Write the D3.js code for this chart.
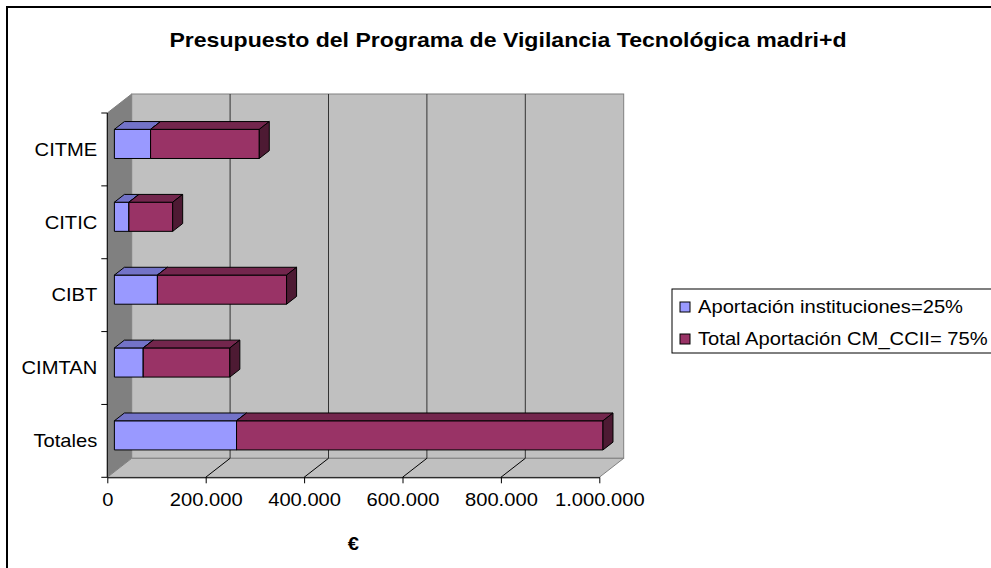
<!DOCTYPE html>
<html lang="es">
  <head>
    <meta charset="UTF-8">
    <script src="https://d3js.org/d3.v7.min.js"></script>
    <style>
      body { margin: 0; background: #fff; }
      text { font-family: "Liberation Sans", Arial, sans-serif; fill: #000; }
    </style>
  </head>
  <body>
    <div id="my_dataviz"></div>

    <script>
      // data
      const categories = ["CITME", "CITIC", "CIBT", "CIMTAN", "Totales"];
      const aportacionInstituciones = [73600, 29600, 87500, 58700, 248300];
      const totalAportacionCM = [220900, 88900, 262500, 176000, 744800];
      const seriesNames = ["Aportación instituciones=25%", "Total Aportación CM_CCII= 75%"];
      const xTicks = [0, 200000, 400000, 600000, 800000, 1000000];

      const width = 991, height = 568;
      const stretch = 1.12;   // the picture is a bit wider than the text would be
      const fontSize = 18;

      // front plane of the 3D plot and its depth
      const front = { left: 107.3, right: 599.3, top: 113, bottom: 477.3 };
      const depth = { dx: 24.4, dy: -19 };
      const barDepth = [0.29, 0.7];   // bar sits between these fractions of the depth

      const colors = [
        { front: "#9999ff", top: "#7373c8", side: "#5c5c99" },
        { front: "#993366", top: "#73264d", side: "#4d1a33" }
      ];

      const svg = d3.select("#my_dataviz")
        .append("svg")
        .attr("width", width)
        .attr("height", height);

      // chart frame
      svg.append("rect")
        .attr("x", 7).attr("y", 7)
        .attr("width", 1000).attr("height", 600)
        .attr("fill", "#fff")
        .attr("stroke", "#000")
        .attr("stroke-width", 2);

      const x = d3.scaleLinear().domain([0, 1000000]).range([front.left, front.right]);
      const y = d3.scaleBand()
        .domain(categories)
        .range([front.top, front.bottom])
        .paddingInner(0.6)
        .paddingOuter(0.3);

      const pts = p => p.map(d => d.join(",")).join(" ");
      const back = (px, py) => [px + depth.dx, py + depth.dy];

      // left wall
      svg.append("polygon")
        .attr("points", pts([[front.left, front.top], back(front.left, front.top),
          back(front.left, front.bottom), [front.left, front.bottom]]))
        .attr("fill", "#808080")
        .attr("stroke", "#808080");

      // back wall
      svg.append("rect")
        .attr("x", front.left + depth.dx)
        .attr("y", front.top + depth.dy)
        .attr("width", front.right - front.left)
        .attr("height", front.bottom - front.top)
        .attr("fill", "#c0c0c0")
        .attr("stroke", "#808080");

      // floor
      svg.append("polygon")
        .attr("points", pts([[front.left, front.bottom], [front.right, front.bottom],
          back(front.right, front.bottom), back(front.left, front.bottom)]))
        .attr("fill", "#c0c0c0")
        .attr("stroke", "#808080");

      // gridlines on back wall and floor
      svg.selectAll(".grid")
        .data(xTicks.slice(1, -1))
        .join("line")
        .attr("x1", d => x(d) + depth.dx)
        .attr("x2", d => x(d) + depth.dx)
        .attr("y1", front.top + depth.dy)
        .attr("y2", front.bottom + depth.dy)
        .attr("stroke", "#333");
      svg.selectAll(".floorgrid")
        .data(xTicks.slice(1, -1))
        .join("line")
        .attr("x1", d => x(d))
        .attr("y1", front.bottom)
        .attr("x2", d => x(d) + depth.dx)
        .attr("y2", front.bottom + depth.dy)
        .attr("stroke", "#000");

      // bars
      const gx0 = depth.dx * barDepth[0], gy0 = depth.dy * barDepth[0];
      const bdx = depth.dx * (barDepth[1] - barDepth[0]), bdy = depth.dy * (barDepth[1] - barDepth[0]);

      const segments = [];
      categories.forEach((c, i) => {
        const vals = [aportacionInstituciones[i], totalAportacionCM[i]];
        let start = 0;
        vals.forEach((v, s) => {
          segments.push({ cat: c, s: s, x0: start, x1: start + v });
          start += v;
        });
      });

      const bars = svg.append("g").selectAll("g")
        .data(segments)
        .join("g")
        .attr("stroke", "#000")
        .attr("stroke-width", 1)
        .attr("stroke-linejoin", "round");

      bars.append("rect")
        .attr("x", d => x(d.x0) + gx0)
        .attr("y", d => y(d.cat) + gy0)
        .attr("width", d => x(d.x1) - x(d.x0))
        .attr("height", y.bandwidth())
        .attr("fill", d => colors[d.s].front);

      bars.append("polygon")
        .attr("points", d => {
          const xa = x(d.x0) + gx0, xb = x(d.x1) + gx0, yt = y(d.cat) + gy0;
          return pts([[xa, yt], [xb, yt], [xb + bdx, yt + bdy], [xa + bdx, yt + bdy]]);
        })
        .attr("fill", d => colors[d.s].top);

      bars.append("polygon")
        .attr("points", d => {
          const xb = x(d.x1) + gx0, yt = y(d.cat) + gy0, yb = yt + y.bandwidth();
          return pts([[xb, yt], [xb + bdx, yt + bdy], [xb + bdx, yb + bdy], [xb, yb]]);
        })
        .attr("fill", d => colors[d.s].side);

      // value axis
      const xAxis = svg.append("g")
        .attr("transform", `translate(0, ${front.bottom})`)
        .call(d3.axisBottom(x)
          .tickValues(xTicks)
          .tickSizeInner(6)
          .tickSizeOuter(0)
          .tickPadding(5)
          .tickFormat(d => d3.format(",")(d).replace(/,/g, ".")));
      xAxis.select(".domain").attr("stroke", "#000");
      xAxis.selectAll(".tick line").attr("stroke", "#000");
      xAxis.selectAll(".tick text")
        .attr("font-size", fontSize)
        .attr("font-family", "Liberation Sans, Arial, sans-serif")
        .attr("y", 16)
        .attr("transform", `scale(${stretch},1)`);

      // category axis
      svg.append("line")
        .attr("x1", front.left).attr("x2", front.left)
        .attr("y1", front.top).attr("y2", front.bottom)
        .attr("stroke", "#000");
      const gap = (y.step() - y.bandwidth()) / 2;
      const bounds = categories.map(c => y(c) - gap).concat([front.bottom]);
      svg.selectAll(".ytick")
        .data(bounds)
        .join("line")
        .attr("x1", front.left - 6).attr("x2", front.left)
        .attr("y1", d => d).attr("y2", d => d)
        .attr("stroke", "#000");
      svg.selectAll(".ylabel")
        .data(categories)
        .join("text")
        .attr("transform", d => `translate(${front.left - 10}, ${y(d) + y.bandwidth() / 2}) scale(${stretch},1)`)
        .attr("text-anchor", "end")
        .attr("dy", "0.35em")
        .style("font-size", fontSize + "px")
        .text(d => d);

      // title
      svg.append("text")
        .attr("transform", `translate(508, 47) scale(1.155,1)`)
        .attr("text-anchor", "middle")
        .style("font-size", "20px")
        .style("font-weight", "bold")
        .text("Presupuesto del Programa de Vigilancia Tecnológica madri+d");

      // axis title
      svg.append("text")
        .attr("transform", `translate(${(front.left + front.right) / 2}, 550) scale(${stretch},1)`)
        .attr("text-anchor", "middle")
        .style("font-size", fontSize + "px")
        .style("font-weight", "bold")
        .text("€");

      // legend
      const legend = svg.append("g").attr("transform", "translate(672, 289)");
      legend.append("rect")
        .attr("width", 340).attr("height", 64)
        .attr("fill", "#fff")
        .attr("stroke", "#000");
      const rows = legend.selectAll(".row")
        .data(seriesNames)
        .join("g")
        .attr("transform", (d, i) => `translate(0, ${18 + i * 32})`);
      rows.append("rect")
        .attr("x", 8).attr("y", -5)
        .attr("width", 10).attr("height", 10)
        .attr("fill", (d, i) => colors[i].front)
        .attr("stroke", "#000");
      rows.append("text")
        .attr("transform", `translate(26, 0) scale(${stretch},1)`)
        .attr("dy", "0.35em")
        .style("font-size", fontSize + "px")
        .text(d => d);
    </script>
  </body>
</html>
